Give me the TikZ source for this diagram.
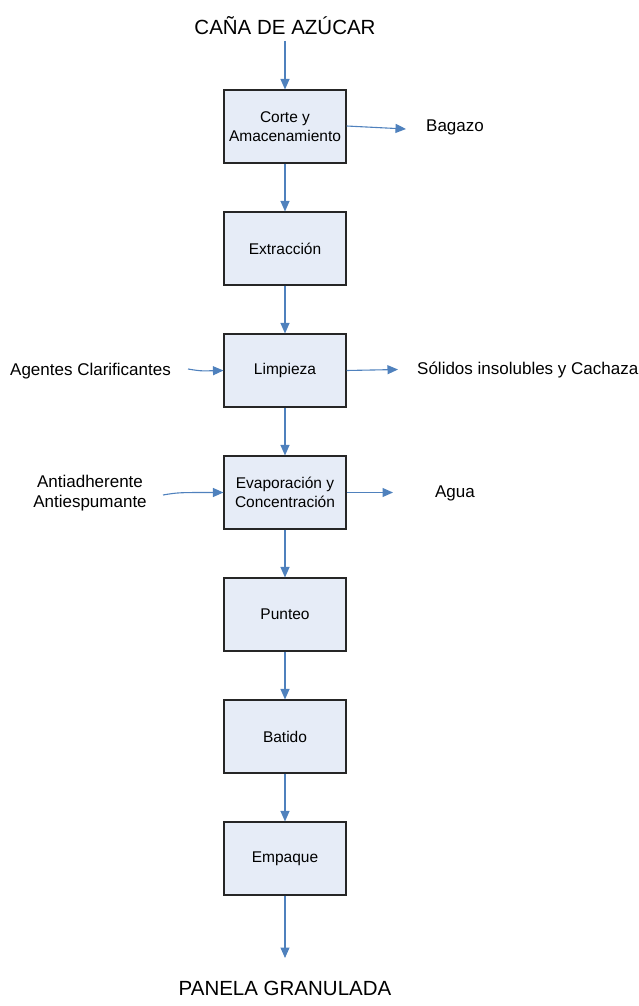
\documentclass[tikz,border=0pt]{standalone}
\usepackage{fontspec}
\setmainfont{Liberation Sans}
\usetikzlibrary{arrows.meta}
\definecolor{flowblue}{HTML}{4F81BD}
\definecolor{boxfill}{HTML}{E6ECF7}
\begin{document}
\begin{tikzpicture}[x=1pt,y=-1pt,
  stage/.style={draw=black!85,line width=1.1pt,fill=boxfill,minimum width=122pt,minimum height=73pt,
    inner sep=0pt,align=center,font=\fontsize{15.5}{19.5}\selectfont},
  label/.style={inner sep=0pt,align=center,font=\fontsize{17}{20}\selectfont},
  title/.style={inner sep=0pt,font=\fontsize{20.5}{24}\selectfont},
  flow/.style={draw=flowblue,line width=1.1pt,-{Triangle[length=10.5pt,width=9pt]}}]
\useasboundingbox (0,0) rectangle (639,1006);

% process stages
\node[stage] (corte) at (285,126.5) {Corte y\\Amacenamiento};
\node[stage] (extr)  at (285,248.5) {Extracción};
\node[stage] (limp)  at (285,370.5) {Limpieza};
\node[stage] (evap)  at (285,492.5) {Evaporación y\\Concentración};
\node[stage] (punt)  at (285,614.5) {Punteo};
\node[stage] (bati)  at (285,736.5) {Batido};
\node[stage] (empa)  at (285,858.5) {Empaque};

% inputs and outputs
\node[title] (cana) at (285,25.5) {CAÑA DE AZÚCAR};
\node[title] (panela) at (285,988) {PANELA GRANULADA};
\node[label,anchor=west] (bagazo) at (426,127.5) {Bagazo};
\node[label,anchor=west] (agentes) at (10,371) {Agentes Clarificantes};
\node[label,anchor=west] (solidos) at (417,370.5) {Sólidos insolubles y Cachaza};
\node[label] (anti) at (90,493) {Antiadherente\\Antiespumante};
\node[label] (agua) at (455,493) {Agua};

% free ends of the connectors
\coordinate (canaOut) at (285,41);
\coordinate (bagazoIn) at (406,129);
\coordinate (agentesOut) at (188,369);
\coordinate (solidosIn) at (398,369.5);
\coordinate (antiOut) at (163,495);
\coordinate (aguaIn) at (393,492.5);
\coordinate (panelaIn) at (285,958);

% main flow
\draw[flow] (canaOut) -- (corte.north);
\draw[flow] (corte) -- (extr);
\draw[flow] (extr) -- (limp);
\draw[flow] (limp) -- (evap);
\draw[flow] (evap) -- (punt);
\draw[flow] (punt) -- (bati);
\draw[flow] (bati) -- (empa);
\draw[flow] (empa.south) -- (panelaIn);

% side streams
\draw[flow] (corte.east) ++(0,-0.5) -- (bagazoIn);
\draw[flow] (agentesOut) .. controls (200,371) .. (limp.west);
\draw[flow] (limp.east) -- (solidosIn);
\draw[flow] (antiOut) .. controls (178,492.5) .. (evap.west);
\draw[flow] (evap.east) -- (aguaIn);
\end{tikzpicture}
\end{document}
